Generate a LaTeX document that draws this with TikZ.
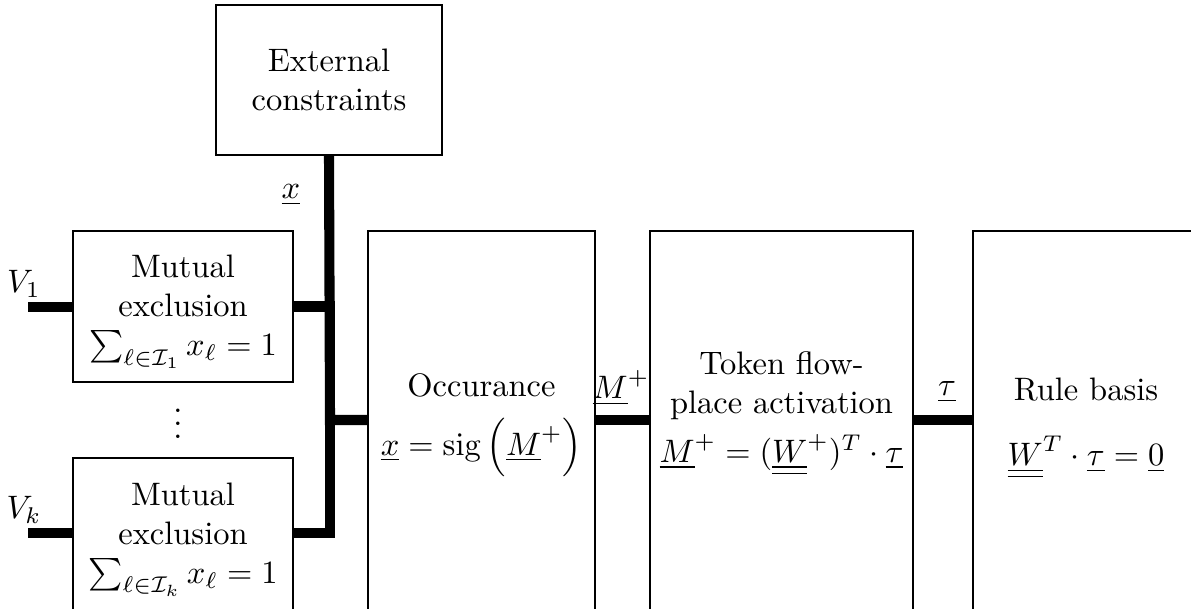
\documentclass[tikz,border=0pt]{standalone}
\usepackage{amsmath,amssymb}
\usepackage{tikz}
\usetikzlibrary{positioning}
\newcommand{\pxu}{0.3077pt}

\begin{document}
\begin{tikzpicture}[x=\pxu, y=-\pxu,
  block/.style={draw, align=center, inner sep=0pt},
  wire/.style={line width=3.1pt}]
\useasboundingbox (0,0) rectangle (1191,608);
% Draw blocks (lower ones run past the page edge)
\node[block, minimum width=226*\pxu, minimum height=150*\pxu] (ext) at (329,80) {External\\constraints};
\node[block, minimum width=220*\pxu, minimum height=151*\pxu] (mut1) at (183,306.5)
  {\rule{0pt}{10pt}Mutual\\exclusion\\$\sum_{\ell\in\mathcal{I}_1} x_\ell = 1$};
\node[block, minimum width=220*\pxu, minimum height=153*\pxu] (mutk) at (183,534.5)
  {\rule{0pt}{10pt}Mutual\\exclusion\\$\sum_{\ell\in\mathcal{I}_k} x_\ell = 1$};
\node (dots) at (178,414) {$\vdots$};
\node[block, minimum width=227*\pxu, minimum height=388*\pxu] (occ) at (481.5,425)
  {Occurance\\[6pt]$\underline{x} = \mathrm{sig}\,\Bigl(\underline{M}^+\Bigr)$};
\node[block, minimum width=263*\pxu, minimum height=385*\pxu, text depth=10pt] (tok) at (781.5,423.5)
  {Token flow-\\place activation\\[3pt]$\underline{M}^+ = (\underline{\underline{W}}^+)^T \cdot \underline{\tau}$};
\node[block, minimum width=226*\pxu, minimum height=395*\pxu] (rule) at (1086,428.5)
  {Rule basis\\[8pt]$\underline{\underline{W}}^T \cdot \underline{\tau} = \underline{0}$};
% Inputs and junction
\coordinate (v1) at (28,307);
\coordinate (vk) at (28,533);
\coordinate (j) at (330,420);
\node (lv1) at (24,284) {$V_1$};
\node (lvk) at (24,510) {$V_k$};
% Draw wires
\draw[wire] (v1) -- (v1 -| mut1.west);
\draw[wire] (vk) -- (vk -| mutk.west);
\draw[wire] (ext.south) -- (j) -- (occ.west |- j);
\draw[wire] (mut1.east) -| (j);
\draw[wire] (vk -| mutk.east) -| (j);
\draw[wire] (occ.east |- j) -- (tok.west |- j);
\draw[wire] (tok.east |- j) -- (rule.west |- j);
% Signal labels
\node (lx) at (291,195) {$\underline{x}$};
\node (lm) at (621,388) {$\underline{M}^+$};
\node (lt) at (947,392) {$\underline{\tau}$};
\end{tikzpicture}
\end{document}
